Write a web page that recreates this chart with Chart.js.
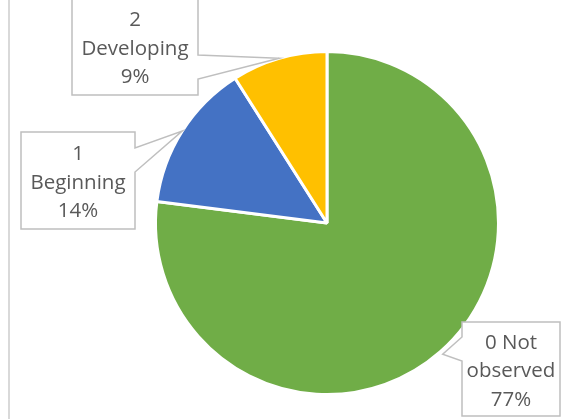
<!DOCTYPE html>
<html>
<head>
<meta charset="utf-8">
<script src="https://cdn.jsdelivr.net/npm/chart.js@4/dist/chart.umd.min.js"></script>
<style>
  html, body { margin: 0; padding: 0; background: #fff; }
  #wrap { position: relative; width: 569px; height: 419px; overflow: hidden; }
  #edge { position: absolute; left: 8px; top: 0; width: 2px; height: 419px; background: #d9d9d9; }
  canvas { position: absolute; left: 0; top: 0; }
</style>
</head>
<body>
<div id="wrap">
  <canvas id="pie" width="569" height="419"></canvas>
  <div id="edge"></div>
</div>
<script>
const categories = ['0 Not observed', '1 Beginning', '2 Developing']
const labelLines = [['0 Not', 'observed'], ['1', 'Beginning'], ['2', 'Developing']]
const values = [77, 14, 9]
const colors = ['#70ad47', '#4472c4', '#ffc000']

// callout boxes (x, y, w, h), which side the pointer leaves from, and where its base sits
const CALLOUTS = [
  { x: 462, y: 322, w: 98,  h: 94,  side: 'left',  b1: 337, b2: 361, reach: 1.02 },
  { x: 21,  y: 132, w: 114, h: 97,  side: 'right', b1: 148, b2: 172, reach: 1.0 },
  { x: 72,  y: -2,  w: 126, h: 97,  side: 'right', b1: 55,  b2: 79,  reach: 1.0 }
]
const FONT = '20.5px "Open Sans", sans-serif'
const LINE_H = 28.5
const TEXT_SHIFT = 2.5  // Open Sans sits a bit high with baseline 'middle'

const calloutPlugin = {
  id: 'callouts',
  afterDatasetsDraw(chart) {
    const ctx = chart.ctx
    const arcs = chart.getDatasetMeta(0).data
    const total = values.reduce((a, b) => a + b, 0)

    arcs.forEach((arc, i) => {
      const c = CALLOUTS[i]
      const mid = (arc.startAngle + arc.endAngle) / 2
      const tx = arc.x + Math.cos(mid) * arc.outerRadius * c.reach
      const ty = arc.y + Math.sin(mid) * arc.outerRadius * c.reach
      const r = c.x + c.w, b = c.y + c.h

      ctx.save()
      ctx.beginPath()
      if (c.side === 'right') {
        ctx.moveTo(c.x, c.y)
        ctx.lineTo(r, c.y)
        ctx.lineTo(r, c.b1)
        ctx.lineTo(tx, ty)
        ctx.lineTo(r, c.b2)
        ctx.lineTo(r, b)
        ctx.lineTo(c.x, b)
      } else {
        ctx.moveTo(c.x, c.y)
        ctx.lineTo(r, c.y)
        ctx.lineTo(r, b)
        ctx.lineTo(c.x, b)
        ctx.lineTo(c.x, c.b2)
        ctx.lineTo(tx, ty)
        ctx.lineTo(c.x, c.b1)
      }
      ctx.closePath()
      ctx.fillStyle = '#fff'
      ctx.fill()
      ctx.strokeStyle = '#bfbfbf'
      ctx.lineWidth = 1.5
      ctx.stroke()

      const lines = [...labelLines[i], Math.round(values[i] / total * 100) + '%']
      ctx.fillStyle = '#595959'
      ctx.font = FONT
      ctx.textAlign = 'center'
      ctx.textBaseline = 'middle'
      const cx = c.x + c.w / 2
      const cy = c.y + c.h / 2 + TEXT_SHIFT
      lines.forEach((t, k) => {
        ctx.fillText(t, cx, cy + (k - (lines.length - 1) / 2) * LINE_H)
      })
      ctx.restore()
    })
  }
}

new Chart(document.getElementById('pie'), {
  type: 'pie',
  data: {
    labels: categories,
    datasets: [{
      data: values,
      backgroundColor: colors,
      borderColor: '#ffffff',
      borderWidth: 3
    }]
  },
  options: {
    responsive: false,
    animation: false,
    layout: { padding: { left: 154, right: 69, top: 50, bottom: 23 } },
    plugins: {
      legend: { display: false },
      tooltip: { enabled: false }
    }
  },
  plugins: [calloutPlugin]
})
</script>
</body>
</html>
